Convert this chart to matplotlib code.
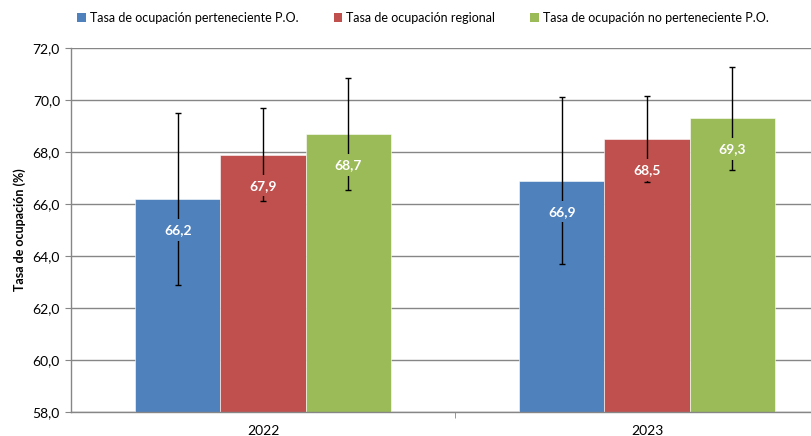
import numpy as np
import matplotlib.pyplot as plt
from matplotlib.patches import Patch

plt.rcParams['font.family'] = ['Lato', 'DejaVu Sans']

years = ['2022', '2023']
series = ['Tasa de ocupación perteneciente P.O.',
          'Tasa de ocupación regional',
          'Tasa de ocupación no perteneciente P.O.']
values = [[66.2, 66.9], [67.9, 68.5], [68.7, 69.3]]
errors = [[3.3, 3.2], [1.8, 1.65], [2.15, 1.98]]
colors = ['#4F81BD', '#C0504D', '#9BBB59']

fig = plt.figure(figsize=(8.12, 4.36), dpi=100)
# plot area runs past the right edge of the picture, as in the original
ax = fig.add_axes([71 / 812, 24 / 436, 768 / 812, 364 / 436])

x = np.arange(len(years))
w = 0.222
for i, (vals, errs, c) in enumerate(zip(values, errors, colors)):
    pos = x + (i - 1) * w
    ax.bar(pos, vals, w, color=c, edgecolor='white', linewidth=0.4, zorder=2)
    ax.errorbar(pos, vals, yerr=errs, fmt='none', ecolor='black', elinewidth=1,
                capsize=2.5, capthick=1, zorder=3)
    # value labels sit a bit under the bar top, hiding the error bar behind them
    for p, v in zip(pos, vals):
        ax.annotate(f'{v:.1f}'.replace('.', ','), (p, v), xytext=(0, -31),
                    textcoords='offset pixels',
                    ha='center', va='center', color='white', fontsize=10,
                    fontweight='bold', zorder=4,
                    bbox=dict(boxstyle='square,pad=0.35', fc=c, ec='none'))

ax.set_xlim(-0.5, 1.5)
ax.set_ylim(58, 72)
yt = np.arange(58, 72.1, 2)
ax.set_yticks(yt)
ax.set_yticklabels([f'{t:.1f}'.replace('.', ',') for t in yt], fontsize=10)
ax.set_xticks(x)
ax.set_xticklabels(years, fontsize=10)
ax.set_xticks([0.5], minor=True)
ax.tick_params(axis='x', which='major', length=0, pad=9)
ax.tick_params(axis='x', which='minor', length=4, color='#868686')
ax.tick_params(axis='y', length=4, color='#868686', pad=4)

ax.grid(axis='y', color='#868686', linewidth=1, zorder=0)
ax.set_axisbelow(True)
for s in ['top', 'right']:
    ax.spines[s].set_visible(False)
for s in ['left', 'bottom']:
    ax.spines[s].set_color('#868686')
    ax.spines[s].set_linewidth(1)

ax.set_ylabel('Tasa de ocupación (%)', fontsize=9, fontweight='bold', labelpad=5)

handles = [Patch(facecolor=c, edgecolor='none') for c in colors]
fig.legend(handles, series, loc='center', bbox_to_anchor=(423 / 812, 1 - 18 / 436),
           ncol=3, frameon=False, fontsize=9, handlelength=0.7, handleheight=0.7,
           handletextpad=0.3, columnspacing=2.8)

fig.savefig('out.png', dpi=100)
